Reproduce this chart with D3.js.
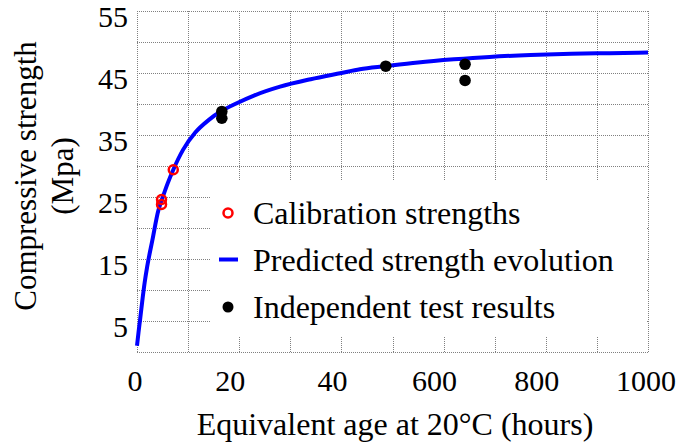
<!DOCTYPE html>
<html>
<head>
<meta charset="utf-8">
<script src="https://cdnjs.cloudflare.com/ajax/libs/d3/7.8.5/d3.min.js"></script>
<style>
  body { margin: 0; background: #fff; }
  svg { display: block; }
</style>
</head>
<body>
<script>

// tick labels
var xTicks = [0, 20, 40, 600, 800, 1000];
var yTicks = [5, 15, 25, 35, 45, 55];

// predicted strength evolution
var curveAge = [0, 0.3, 0.6, 1.0, 1.5, 2.0, 3.0, 4.2, 4.8, 6.0, 7.1, 9.0, 11.4, 14, 16.6, 19.2, 23, 28, 34, 40, 141, 281, 460, 620, 690, 770, 850, 925, 1000];
var curveStrength = [1.0, 3.2, 5.2, 8.0, 11.2, 13.8, 18.0, 22.9, 24.4, 27.2, 29.4, 32.6, 35.4, 37.4, 38.9, 40.0, 41.4, 42.8, 44.0, 45.0, 45.6, 46.1, 46.7, 47.2, 47.6, 47.9, 48.1, 48.2, 48.3];

// calibration strengths
var calibAge = [4.8, 4.8, 7.1];
var calibStrength = [24.6, 23.8, 29.4];

// independent test results
var testAge = [16.6, 16.6, 283, 642, 642];
var testStrength = [38.8, 37.7, 46.1, 46.4, 43.8];

var legendLabels = ["Calibration strengths", "Predicted strength evolution", "Independent test results"];

var serif = "Liberation Serif";

var margin = {top: 11, right: 32, bottom: 94, left: 137};
var width = 680 - margin.left - margin.right,
    height = 446 - margin.top - margin.bottom;

var svg = d3.select("body").append("svg")
    .attr("width", 680)
    .attr("height", 446);

var g = svg.append("g")
    .attr("transform", "translate(" + margin.left + "," + margin.top + ")");

// broken axis: each label sits two grid cells apart
var x = d3.scaleLinear()
    .domain(xTicks)
    .range(xTicks.map(function(d, i) { return i * width / (xTicks.length - 1); }));

var cell = d3.scaleLinear().domain([0, 10]).range([0, width]);

var y = d3.scaleLinear()
    .domain([0, 55])
    .range([height, 0]);

// grid (dotted grey, border included)
var grid = g.append("g")
    .attr("stroke", "#808080")
    .attr("stroke-width", 1)
    .attr("stroke-dasharray", "1,1")
    .attr("shape-rendering", "crispEdges");

grid.selectAll(".v")
    .data(d3.range(0, 11))
  .enter().append("line")
    .attr("x1", function(d) { return cell(d) + 0.5; })
    .attr("x2", function(d) { return cell(d) + 0.5; })
    .attr("y1", 0)
    .attr("y2", height);

grid.selectAll(".h")
    .data(d3.range(0, 56, 5))
  .enter().append("line")
    .attr("x1", 0)
    .attr("x2", width)
    .attr("y1", function(d) { return y(d) + 0.5; })
    .attr("y2", function(d) { return y(d) + 0.5; });

// legend background hides the grid behind it
g.append("rect")
    .attr("x", 74)
    .attr("y", 169)
    .attr("width", 435)
    .attr("height", 157)
    .attr("fill", "#fff");

// tick labels
g.selectAll(".ytick")
    .data(yTicks)
  .enter().append("text")
    .attr("x", -9)
    .attr("y", function(d) { return y(d) + 15.5; })
    .attr("text-anchor", "end")
    .attr("font-family", serif)
    .attr("font-size", 30)
    .text(function(d) { return d; });

// inner labels sit a little left of their grid line in the original
g.selectAll(".xtick")
    .data(xTicks)
  .enter().append("text")
    .attr("x", function(d) { return x(d); })
    .attr("dx", function(d, i) { return (i === 0 || i === xTicks.length - 1) ? -2 : -9; })
    .attr("y", height + 39)
    .attr("text-anchor", "middle")
    .attr("font-family", serif)
    .attr("font-size", 30)
    .text(function(d) { return d; });

// axis titles
svg.append("text")
    .attr("transform", "translate(36,176) rotate(-90)")
    .attr("text-anchor", "middle")
    .attr("font-family", serif)
    .attr("font-size", 31)
    .text("Compressive strength");

svg.append("text")
    .attr("transform", "translate(73,176) rotate(-90)")
    .attr("text-anchor", "middle")
    .attr("font-family", serif)
    .attr("font-size", 31)
    .text("(Mpa)");

svg.append("text")
    .attr("x", 395)
    .attr("y", 435)
    .attr("text-anchor", "middle")
    .attr("font-family", serif)
    .attr("font-size", 32)
    .text("Equivalent age at 20\u00B0C (hours)");

// curve
var line = d3.line()
    .x(function(d) { return x(d[0]); })
    .y(function(d) { return y(d[1]); })
    .curve(d3.curveMonotoneX);

g.append("path")
    .datum(d3.zip(curveAge, curveStrength))
    .attr("d", line)
    .attr("fill", "none")
    .attr("stroke", "#0000ff")
    .attr("stroke-width", 4);

// calibration points
g.selectAll(".calib")
    .data(d3.zip(calibAge, calibStrength))
  .enter().append("circle")
    .attr("cx", function(d) { return x(d[0]); })
    .attr("cy", function(d) { return y(d[1]); })
    .attr("r", 4.5)
    .attr("fill", "none")
    .attr("stroke", "#ff0000")
    .attr("stroke-width", 2.5);

// test points
g.selectAll(".test")
    .data(d3.zip(testAge, testStrength))
  .enter().append("circle")
    .attr("cx", function(d) { return x(d[0]); })
    .attr("cy", function(d) { return y(d[1]); })
    .attr("r", 5.8)
    .attr("fill", "#000");

// legend
var legend = svg.append("g");

legend.append("circle")
    .attr("cx", 228).attr("cy", 213)
    .attr("r", 4.5)
    .attr("fill", "none")
    .attr("stroke", "#ff0000")
    .attr("stroke-width", 2.5);

legend.append("line")
    .attr("x1", 219).attr("x2", 238)
    .attr("y1", 259.5).attr("y2", 259.5)
    .attr("stroke", "#0000ff")
    .attr("stroke-width", 4);

legend.append("circle")
    .attr("cx", 228).attr("cy", 307)
    .attr("r", 5.5)
    .attr("fill", "#000");

legend.selectAll(".ltext")
    .data(legendLabels)
  .enter().append("text")
    .attr("x", 253)
    .attr("y", function(d, i) { return 224 + i * 47; })
    .attr("font-family", serif)
    .attr("font-size", 32)
    .text(function(d) { return d; });

</script>
</body>
</html>
